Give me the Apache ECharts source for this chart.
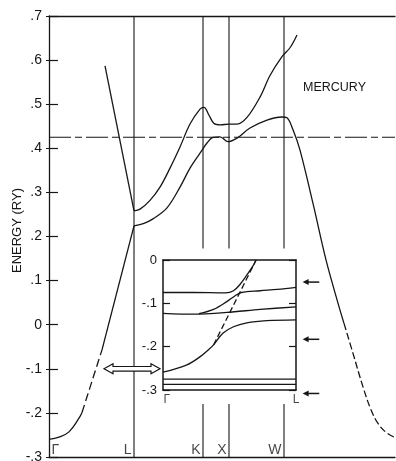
<!DOCTYPE html>
<html><head><meta charset="utf-8">
<script src="https://cdn.jsdelivr.net/npm/echarts@6/dist/echarts.min.js"></script>
<style>html,body{margin:0;padding:0;background:#fff}#c{width:396px;height:461px}</style>
</head><body><div id="c"></div>
<script>
// ---- symmetry points along the k-path (arbitrary path-length units) ----
const symNames = ['Γ', 'L', 'K', 'X', 'W'];
const symPos = [0, 85, 154, 180, 235];
const pathEnd = 346;
const fullLines = [85];            // L line runs full height
const brokenLines = [154, 180, 235]; // K, X, W lines interrupted by the inset
const gapTop = 0.173, gapBottom = -0.18;
const fermi = 0.425;
const symLabelY = -0.284;

const yTickLabels = ['-.3', '-.2', '-.1', '0', '.1', '.2', '.3', '.4', '.5', '.6', '.7'];
const insetTickLabels = ['-.3', '-.2', '-.1', '0'];

// ---- main bands (x, energy in Ry) ----
const bandGL_solid1 = [[0, -0.26], [10, -0.255], [20, -0.243], [30, -0.212], [33, -0.199]];
const bandGL_dash = [[33, -0.199], [43, -0.128], [53, -0.057]];
const bandGL_solid2 = [[53, -0.057], [85, 0.224]];
const bandSteep = [[56, 0.587], [85, 0.258]];
const bandUpper = [[85, 0.258], [91, 0.262], [101, 0.282], [111, 0.312], [121, 0.355], [131, 0.403], [141, 0.455], [151, 0.489], [155, 0.493],
  [160, 0.475], [165, 0.456], [171, 0.453], [180, 0.455], [188, 0.455], [198, 0.470], [211, 0.516], [221, 0.565], [233, 0.608], [241, 0.628], [248, 0.657]];
const bandLower_solid = [[85, 0.224], [95, 0.230], [104, 0.240], [118, 0.265], [131, 0.312], [141, 0.355], [151, 0.389], [158, 0.412], [164, 0.425],
  [171, 0.426], [179, 0.415], [188, 0.423], [201, 0.446], [218, 0.464], [233, 0.471], [238, 0.469], [244, 0.442], [251, 0.396],
  [264, 0.275], [277, 0.147], [290, 0.041], [295, 0.003]];
const bandLower_dash = [[295, 0.003], [304, -0.065], [314, -0.141], [322, -0.193], [329, -0.224], [337, -0.244], [346, -0.256]];

// double arrow (main coords): [xStart, xEnd, energy]
const doubleArrow = [[55, 111, -0.1]];

// ---- inset (x: 0 = Γ, 1 = L ; energy in Ry) ----
const insetA1 = [[0, -0.075], [0.23, -0.075], [0.47, -0.076], [0.53, -0.071], [0.58, -0.056], [0.63, -0.035], [0.68, -0.012], [0.70, 0]];
const insetA2 = [[0.27, -0.124], [0.38, -0.114], [0.48, -0.096], [0.54, -0.083], [0.59, -0.075], [0.73, -0.071], [0.86, -0.068], [1, -0.063]];
const insetC = [[0, -0.123], [0.23, -0.125], [0.48, -0.121], [0.73, -0.114], [1, -0.108]];
const insetD = [[0, -0.259], [0.18, -0.242], [0.28, -0.223], [0.35, -0.205], [0.38, -0.196], [0.45, -0.169], [0.53, -0.154], [0.63, -0.145], [0.78, -0.140], [1, -0.138]];
const insetDash = [[0.38, -0.196], [0.70, 0]];
const insetFlat1 = [[0, -0.275], [1, -0.275]];
const insetFlat2 = [[0, -0.287], [1, -0.287]];
// arrows right of the inset: [xTip, xTail, energy]
const insetArrows = [[1.05, 1.175, -0.051], [1.05, 1.175, -0.183], [1.05, 1.175, -0.308]];
const insetLabels = [['Γ', 0, -0.323, 'right'], ['L', 1, -0.323, 'inside']];

const INK = '#161616';
const FONT = '"Liberation Sans", Arial, sans-serif';

function line(data, opts) {
  opts = opts || {};
  return Object.assign({
    type: 'line', data: data, symbol: 'none', silent: true, animation: false,
    xAxisIndex: opts.inset ? 2 : 0, yAxisIndex: opts.inset ? 2 : 0,
    smooth: opts.smooth || false,
    lineStyle: { color: INK, width: opts.width || 1.3, type: opts.dash || 'solid' },
    z: 3
  }, opts.extra || {});
}

const series = [];
// vertical symmetry lines
fullLines.forEach(x => series.push(line([[x, -0.3], [x, 0.7]], { width: 1.1 })));
brokenLines.forEach(x => {
  series.push(line([[x, gapTop], [x, 0.7]], { width: 1.1 }));
  series.push(line([[x, -0.3], [x, gapBottom]], { width: 1.1 }));
});
// Fermi level
series.push(line([[0, fermi], [pathEnd, fermi]], { width: 1.1, dash: [22, 4, 7, 4] }));
// bands
series.push(line(bandGL_solid1, { smooth: 0.4 }));
series.push(line(bandGL_dash, { smooth: 0.3, dash: [8, 4] }));
series.push(line(bandGL_solid2));
series.push(line(bandSteep));
series.push(line(bandUpper, { smooth: 0.35 }));
series.push(line(bandLower_solid, { smooth: 0.35 }));
series.push(line(bandLower_dash, { smooth: 0.4, dash: [7, 3] }));

// symmetry labels
series.push({
  type: 'scatter', xAxisIndex: 0, yAxisIndex: 0, symbolSize: 1, silent: true, animation: false,
  itemStyle: { color: 'rgba(0,0,0,0)' }, z: 5,
  data: symNames.map((n, i) => ({
    value: [symPos[i], symLabelY], name: n,
    label: { show: true, position: i === 0 ? 'right' : 'left', distance: 2, formatter: n,
      color: INK, fontSize: 14, fontFamily: FONT }
  }))
});

// double hollow arrow
series.push({
  type: 'custom', xAxisIndex: 0, yAxisIndex: 0, silent: true, animation: false, z: 6,
  data: doubleArrow, encode: { x: [0, 1], y: 2 },
  renderItem: function (params, api) {
    const a = api.coord([api.value(0), api.value(2)]);
    const b = api.coord([api.value(1), api.value(2)]);
    const hl = 9, hh = 5, sh = 2.3, y = a[1];
    return {
      type: 'polygon',
      shape: { points: [[a[0], y], [a[0] + hl, y - hh], [a[0] + hl, y - sh], [b[0] - hl, y - sh], [b[0] - hl, y - hh], [b[0], y],
        [b[0] - hl, y + hh], [b[0] - hl, y + sh], [a[0] + hl, y + sh], [a[0] + hl, y + hh]] },
      style: { fill: '#fff', stroke: INK, lineWidth: 1.2 }
    };
  }
});

// inset bands
series.push(line(insetA1, { inset: true, smooth: 0.35 }));
series.push(line(insetA2, { inset: true, smooth: 0.35 }));
series.push(line(insetC, { inset: true, smooth: 0.3 }));
series.push(line(insetD, { inset: true, smooth: 0.35 }));
series.push(line(insetDash, { inset: true, dash: [6, 3] }));
series.push(line(insetFlat1, { inset: true, width: 1.2 }));
series.push(line(insetFlat2, { inset: true, width: 1.2 }));

// inset arrows
series.push({
  type: 'custom', xAxisIndex: 2, yAxisIndex: 2, silent: true, animation: false, z: 6, clip: false,
  data: insetArrows, encode: { x: [0, 1], y: 2 },
  renderItem: function (params, api) {
    const a = api.coord([api.value(0), api.value(2)]);
    const b = api.coord([api.value(1), api.value(2)]);
    return {
      type: 'group', children: [
        { type: 'line', shape: { x1: a[0] + 4, y1: a[1], x2: b[0], y2: b[1] }, style: { stroke: INK, lineWidth: 1.5 } },
        { type: 'polygon', shape: { points: [[a[0], a[1]], [a[0] + 6, a[1] - 3], [a[0] + 6, a[1] + 3]] }, style: { fill: INK } }
      ]
    };
  }
});
// inset labels
series.push({
  type: 'scatter', xAxisIndex: 2, yAxisIndex: 2, symbolSize: 1, silent: true, animation: false, clip: false,
  itemStyle: { color: 'rgba(0,0,0,0)' }, z: 5,
  data: insetLabels.map(l => ({
    value: [l[1], l[2]],
    label: { show: true, position: l[3], distance: 0, formatter: l[0], color: INK, fontSize: 12, fontFamily: FONT }
  }))
});

const hidden = { show: false };
const option = {
  animation: false,
  backgroundColor: '#fff',
  title: {
    text: 'MERCURY', left: 298, top: 76,
    textStyle: { fontSize: 12.5, fontWeight: 'normal', color: INK, fontFamily: FONT }
  },
  grid: [
    { left: 49, right: 1, top: 16, bottom: 4, containLabel: false, outerBoundsMode: 'none' },
    { left: 163, top: 260, width: 133, height: 130, show: true, backgroundColor: '#fff', borderWidth: 0, z: 2,
      containLabel: false, outerBoundsMode: 'none' }
  ],
  xAxis: [
    { type: 'value', gridIndex: 0, min: 0, max: pathEnd, position: 'bottom',
      axisLine: { show: true, onZero: false, lineStyle: { color: INK, width: 1.3 } }, axisTick: hidden, axisLabel: hidden, splitLine: hidden },
    { type: 'value', gridIndex: 0, min: 0, max: pathEnd, position: 'top',
      axisLine: { show: true, onZero: false, lineStyle: { color: INK, width: 1.3 } }, axisTick: hidden, axisLabel: hidden, splitLine: hidden },
    { type: 'value', gridIndex: 1, min: 0, max: 1, position: 'bottom',
      axisLine: { show: true, onZero: false, lineStyle: { color: INK, width: 1.5 } }, axisTick: hidden, axisLabel: hidden, splitLine: hidden, z: 4 },
    { type: 'value', gridIndex: 1, min: 0, max: 1, position: 'top',
      axisLine: { show: true, onZero: false, lineStyle: { color: INK, width: 1.5 } }, axisTick: hidden, axisLabel: hidden, splitLine: hidden, z: 4 }
  ],
  yAxis: [
    { type: 'value', gridIndex: 0, min: -0.3, max: 0.7, interval: 0.1, position: 'left',
      name: 'ENERGY (RY)', nameLocation: 'middle', nameGap: 25, nameRotate: 90, nameMoveOverlap: false,
      nameTextStyle: { color: INK, fontSize: 13, fontFamily: FONT, padding: [0, 0, 0, 12] },
      axisLine: { show: true, onZero: false, lineStyle: { color: INK, width: 1.3 } },
      axisTick: { show: true, inside: true, length: 9, lineStyle: { color: INK, width: 1.2 } },
      axisLabel: { show: true, margin: 7, color: INK, fontSize: 14, fontFamily: FONT,
        formatter: v => yTickLabels[Math.round((v + 0.3) * 10)] },
      splitLine: hidden },
    { type: 'value', gridIndex: 0, min: -0.3, max: 0.7, interval: 0.1, position: 'right',
      axisLine: hidden, axisTick: { show: true, inside: true, length: 3, lineStyle: { color: INK, width: 1 } },
      axisLabel: hidden, splitLine: hidden },
    { type: 'value', gridIndex: 1, min: -0.3, max: 0, interval: 0.1, position: 'left',
      axisLine: { show: true, onZero: false, lineStyle: { color: INK, width: 1.5 } },
      axisTick: { show: true, inside: true, length: 7, lineStyle: { color: INK, width: 1.2 } },
      axisLabel: { show: true, margin: 6, color: INK, fontSize: 13, fontFamily: FONT,
        formatter: v => insetTickLabels[Math.round((v + 0.3) * 10)] },
      splitLine: hidden, z: 4 },
    { type: 'value', gridIndex: 1, min: -0.3, max: 0, interval: 0.1, position: 'right',
      axisLine: { show: true, onZero: false, lineStyle: { color: INK, width: 1.5 } },
      axisTick: { show: true, inside: true, length: 7, lineStyle: { color: INK, width: 1.2 } },
      axisLabel: hidden, splitLine: hidden, z: 4 }
  ],
  series: series
};
const chart = echarts.init(document.getElementById('c'), null, { renderer: 'canvas' });
chart.setOption(option);
</script>
</body></html>
